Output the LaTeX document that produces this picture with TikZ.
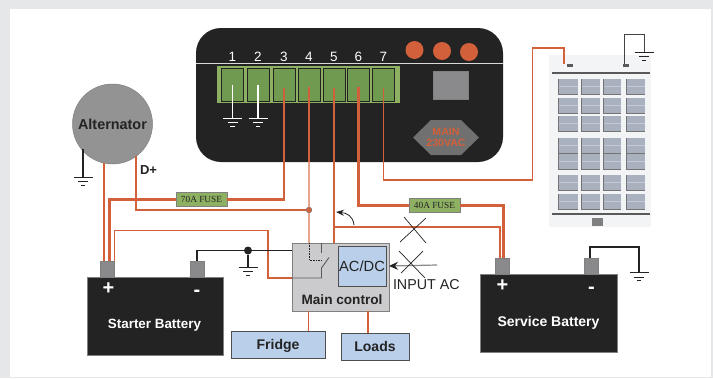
\documentclass[tikz,border=0pt]{standalone}
\usepackage{fontspec}
\setmainfont{Liberation Sans}
\newfontfamily\fusefont{Liberation Serif}
\usetikzlibrary{positioning, arrows.meta}
\usetikzlibrary{shapes.geometric}
\definecolor{pagegray}{HTML}{E6E7E9}
\definecolor{panelblack}{HTML}{232323}
\definecolor{wireorange}{HTML}{D2603A}
\definecolor{wirepale}{HTML}{E8A58C}
\definecolor{stripgreen}{HTML}{8DB063}
\definecolor{termgreen}{HTML}{6F9A50}
\definecolor{postgray}{HTML}{8A898B}
\definecolor{boxblue}{HTML}{B9CFEA}
\definecolor{controlgray}{HTML}{CBCBCD}
\definecolor{cellgray}{HTML}{A9B1BF}
\tikzset{
    every node/.style={inner sep=0pt, outer sep=0pt},
    thickwire/.style={wireorange, line width=2.6pt},
    thinwire/.style={wireorange, line width=1.1pt},
    palewire/.style={wirepale, line width=1.2pt},
    blackwire/.style={panelblack, line width=1.9pt},
    crossmark/.style={panelblack, line width=0.7pt},
    terminal/.style={draw=panelblack, line width=0.8pt, fill=termgreen, minimum width=22pt, minimum height=33pt},
    battery/.style={draw=gray, line width=0.6pt, fill=panelblack, minimum width=136pt, minimum height=78pt},
    post/.style={draw=gray, line width=0.5pt, fill=postgray, minimum width=14pt, minimum height=16pt},
    fuse/.style={draw=gray, line width=0.8pt, fill=stripgreen, minimum width=51pt, minimum height=14.5pt, font=\fusefont\fontsize{9.3}{9.3}\selectfont, text=panelblack},
    bluebox/.style={draw=panelblack!80, line width=0.8pt, fill=boxblue, text depth=0pt, font=\bfseries\fontsize{14}{14}\selectfont, text=panelblack},
    battlabel/.style={text=white, text depth=0pt, font=\bfseries\fontsize{13.4}{13.4}\selectfont},
    signlabel/.style={text=white, font=\bfseries\fontsize{20}{20}\selectfont},
    groundsym/.pic={
      \draw (-9.5,0) -- (9.5,0) (-5,4.5) -- (5,4.5) (-2.2,8) -- (2.2,8);
    },
}

\begin{document}
\begin{tikzpicture}[x=1pt,y=-1pt]
    \useasboundingbox (0,0) rectangle (713,378);
    \fill[pagegray] (0,0) rectangle (713,378);
    \fill[white] (10,9) rectangle (711,377);

    % control panel
    \node[fill=panelblack, rounded corners=25pt, minimum width=307pt, minimum height=134pt] (panel) at (349.5,95) {};
    \draw[white!85!black, line width=0.7pt] (panel.west |- 0,63.5) -- (panel.east |- 0,63.5);
    \node[fill=stripgreen, minimum width=183pt, minimum height=37pt] (strip) at (308.5,84.5) {};
    \foreach \i/\x in {1/232.5,2/258,3/284,4/309,5/334,6/358.5,7/383.5}{
        \node[terminal] (term\i) at (\x,84.5) {};
        \node[text=white, font=\fontsize{13.5}{13.5}\selectfont] (num\i) at (\x,56.5) {\i};
    }
    \foreach \i/\x/\y in {1/414.5/50,2/442/51,3/469/52}{
        \node[circle, fill=wireorange, minimum size=18pt] (lamp\i) at (\x,\y) {};
    }
    \node[draw=gray, fill=postgray, minimum width=35pt, minimum height=28pt] (display) at (450.5,85) {};
    \fill[gray!88!black] (413,137.5) -- (431,120) -- (461,120) -- (479,137.5) -- (461,155) -- (431,155) -- cycle;
    \node[text=wireorange, align=center, font=\bfseries\fontsize{10.6}{11.5}\selectfont] (mains) at (446,137.5) {MAIN\\230VAC};

    % grounds on terminals 1 and 2
    \foreach \i in {1,2}{
        \coordinate (gndT\i) at ([yshift=-33.5pt]term\i.center);
        \draw[white, line width=1.5pt] (term\i.center) -- (gndT\i);
        \pic[white, line width=0.7pt] at (gndT\i) {groundsym};
    }

    % alternator
    \node[circle, draw=gray, line width=0.5pt, fill=gray!85!white, minimum size=80pt, text=panelblack, font=\bfseries\fontsize{14.4}{14.4}\selectfont] (alt) at (112.5,124) {Alternator};
    \coordinate (altIn) at (83,149);
    \coordinate (gndA) at (83,177);
    \draw[blackwire] (altIn) -- (gndA);
    \pic[panelblack, line width=0.7pt] at (gndA) {groundsym};
    \node[text=panelblack, font=\bfseries\fontsize{13}{13}\selectfont] (dplus) at (148.5,170) {D+};

    % batteries
    \node[battery] (starter) at (155,316) {};
    \node[post] (posS) at (107.5,269) {};
    \node[post] (negS) at (197,269) {};
    \node[signlabel] (plusS) at (108.5,289) {+};
    \node[signlabel] (minusS) at (197,293.5) {-};
    \node[battlabel] (labelS) at (154.5,324) {Starter Battery};

    \node[battery, minimum width=137pt] (service) at (548.5,313) {};
    \node[post] (posB) at (502,266) {};
    \node[post] (negB) at (591,266) {};
    \node[signlabel] (plusB) at (502.5,286) {+};
    \node[signlabel] (minusB) at (591.5,290.5) {-};
    \node[battlabel, font=\bfseries\fontsize{14}{14}\selectfont] (labelB) at (548.5,321) {Service Battery};

    % main control
    \node[draw=gray, line width=0.8pt, fill=controlgray, minimum width=97pt, minimum height=68pt] (control) at (340.5,277) {};
    \node[draw=panelblack!80, line width=0.8pt, fill=boxblue, minimum width=48pt, minimum height=40pt, text=panelblack, font=\fontsize{14.7}{14.7}\selectfont] (acdc) at (362,266) {AC/DC};
    \node[text=panelblack, font=\bfseries\fontsize{13.6}{13.6}\selectfont] (maintext) at (342,299.5) {Main control};
    \node[bluebox, minimum width=94pt, minimum height=27pt] (fridge) at (278,344.5) {Fridge};
    \node[bluebox, minimum width=68pt, minimum height=27pt] (loads) at (375,346.5) {Loads};

    % fuses
    \node[fuse] (fuseA) at (201.5,199.5) {70A FUSE};
    \node[fuse] (fuseB) at (434.5,205.5) {40A FUSE};

    % heavy wires
    \draw[thickwire] (alt.258) -- (alt.258 |- posS.north);
    \draw[thickwire] ([yshift=-3pt]term3.center) |- (fuseA.east);
    \draw[thickwire] (fuseA.west) -| ([xshift=2pt]posS.north);
    \draw[thickwire] ([yshift=-2pt]term6.center) |- (fuseB.west);
    \draw[thickwire] (fuseB.east) -| ([xshift=1.5pt]posB.north);

    % thin wires
    \coordinate (bendS) at (268,230.5);
    \coordinate (relayB) at (322,278);
    \coordinate (busL) at (334,227);
    \coordinate (bendP) at (532.5,180);
    \coordinate (pvBend) at (532.5,48);
    \node[circle, fill=wireorange, draw=panelblack!60, line width=0.4pt, minimum size=5.5pt] (junction) at (309,210) {};
    \draw[thinwire] (alt.306) |- (junction);
    \draw[thinwire] ([yshift=-2pt]term4.center) -- (term4.center |- panel.south);
    \draw[palewire] (term4.center |- panel.south) -- (term4.center |- control.north);
    \draw[thinwire] ([yshift=-3pt]term5.center) -- (term5.center |- control.north);
    \draw[thinwire] (busL) -| ([xshift=-2pt]posB.north);
    \draw[thinwire] (posS.north east) |- (bendS) |- (control.west |- relayB);
    \draw[thinwire] (control.south -| fridge.center) ++(30.5,0) -- ++(0,20);
    \draw[thinwire] (control.south -| loads.center) ++(-7,0) -- ++(0,22);
    \node[circle, fill=wireorange, draw=panelblack!60, line width=0.4pt, minimum size=5.5pt] at (junction) {};

    % black wires
    \node[circle, fill=panelblack, minimum size=8pt] (gndDot) at (248,250.5) {};
    \coordinate (gndS) at (248,267);
    \draw[blackwire] (negS.north) |- (gndDot) -- (gndDot -| control.west);
    \draw[blackwire] (gndDot) -- (gndS);
    \pic[panelblack, line width=0.7pt] at (gndS) {groundsym};
    \coordinate (gndB) at (639,272.5);
    \coordinate (topB) at (590,247);
    \draw[blackwire] (negB.north -| topB) |- (topB) -| (gndB);
    \pic[panelblack, line width=0.7pt] at (gndB) {groundsym};

    % relay inside main control
    \draw[panelblack!75, line width=0.9pt] (321.5,243) -- (321.5,253);
    \draw[panelblack!75, line width=0.9pt] (329,257.5) -- (321.5,268) -- (321.5,278) -- (control.west |- relayB);
    \draw[panelblack, line width=0.6pt, densely dotted] (term4.center |- control.north) |- (322,260);

    % input ac
    \coordinate (acIn) at (437,265);
    \draw[postgray, line width=1.2pt, -{Stealth[length=9pt,width=8pt,panelblack]}] (acIn) -- (acdc.east -| control.east);
    \draw[crossmark] (399,251) -- (425,278) (423,251) -- (401,273);
    \draw[crossmark] (400,242) -- (426,218) (404,217) -- (426,243);
    \node[anchor=west, text=panelblack, font=\fontsize{14.3}{14.3}\selectfont] (inputac) at (393,285) {INPUT AC};

    % curved arrow
    \coordinate (switchA) at (354,225);
    \coordinate (switchB) at (336,212);
    \draw[panelblack, line width=0.8pt, -{Stealth[length=8pt,width=6pt]}] (switchA) .. controls (353,216) and (347,213) .. (switchB);

    % solar panel
    \node[fill=cellgray!14!white, minimum width=102pt, minimum height=172pt] (pv) at (600,141) {};
    \foreach \y in {79,98,116,138,154,175,194}{
        \foreach \x/\w in {558/20,581/19,603/18,626/19}{
            \fill[cellgray] (\x,\y) rectangle ++(\w,15);
            \draw[cellgray!70!white, line width=0.7pt] (\x,\y+7.5) -- ++(\w,0);
            \draw[gray!90!black, line width=0.8pt] (\x,\y) -- ++(0,15) -- ++(\w,0);
        }
    }
    \draw[gray!70!black, line width=1.2pt] (552,73) -- (650,73) (552,214) -- (650,214);
    \node[fill=gray, minimum width=11pt, minimum height=8pt] (pvTag) at (597.5,222) {};
    \node[fill=gray!70!black, minimum width=6pt, minimum height=3pt] (pvPos) at (570,65) {};
    \node[fill=gray!70!black, minimum width=6pt, minimum height=3pt] (pvNeg) at (626,65) {};
    \draw[thinwire] ([yshift=-3pt]term7.center) |- (bendP) -- (pvBend) -| ([xshift=-6pt]pvPos.north);
    \coordinate (gndP) at (644,52);
    \coordinate (topP) at (624,34);
    \draw[panelblack!85, line width=0.9pt] (pvNeg.north -| topP) -- (topP) -| (gndP);
    \pic[panelblack, line width=0.7pt] at (gndP) {groundsym};
\end{tikzpicture}
\end{document}
